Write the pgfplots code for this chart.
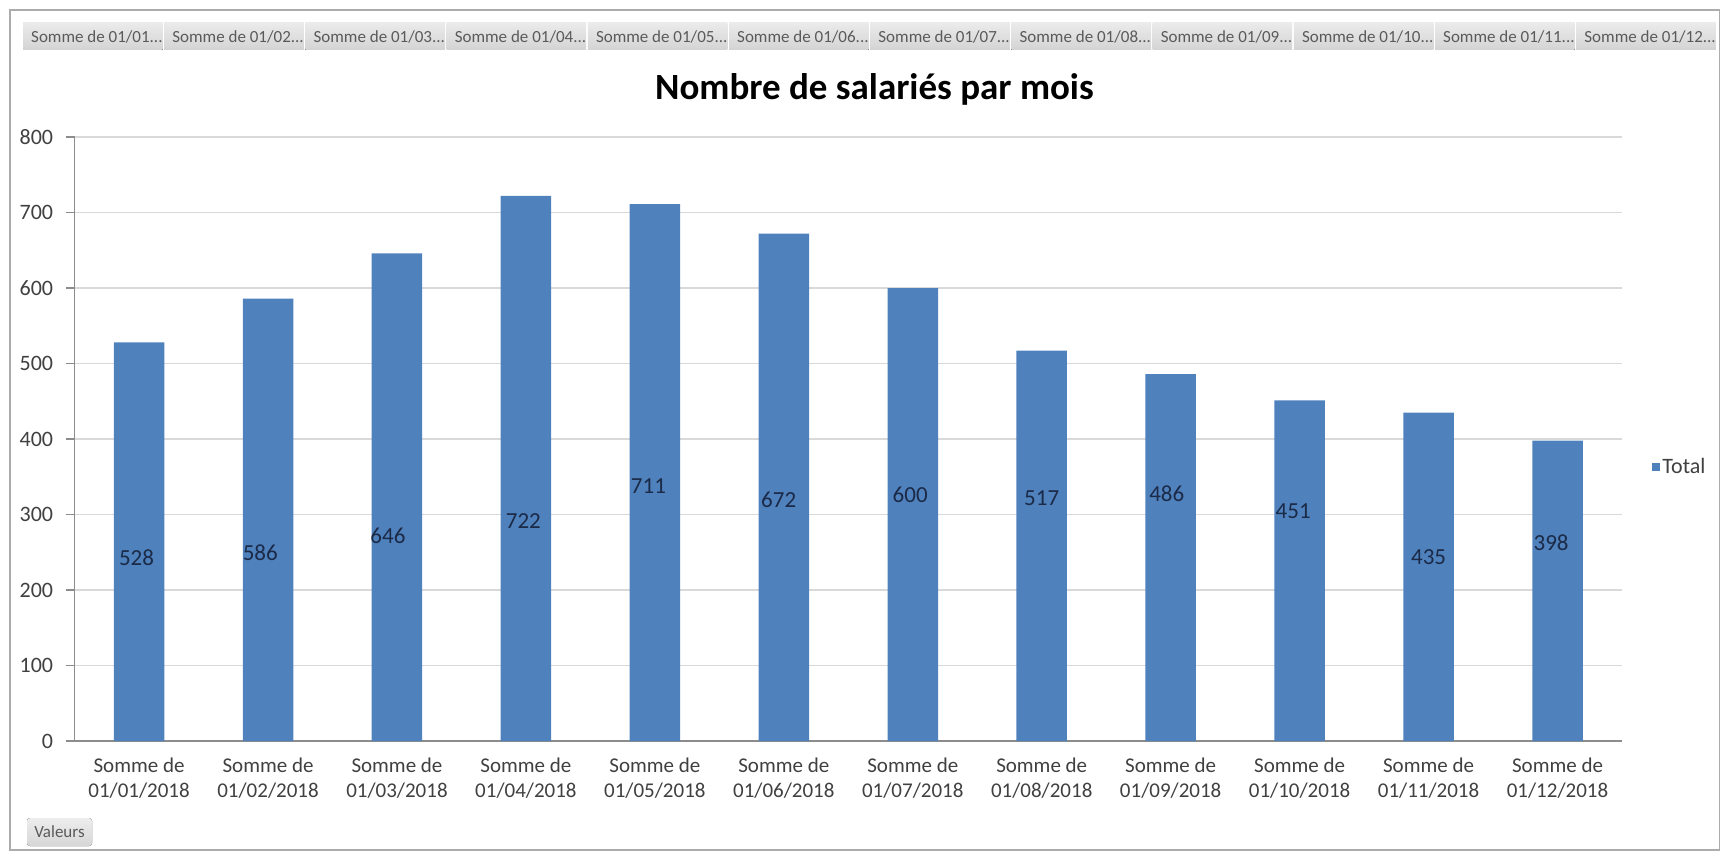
\documentclass[border=0pt]{standalone}
\usepackage{fontspec}
\setmainfont{Carlito}
\usepackage{pgfplots}
\pgfplotsset{compat=1.18}
\definecolor{barblue}{HTML}{4F81BD}
\definecolor{gridgray}{HTML}{D9D9D9}
\definecolor{axisgray}{HTML}{8C8C8C}
\definecolor{ticktext}{HTML}{404040}
\definecolor{labeltext}{HTML}{1B2A47}
\definecolor{btntext}{HTML}{5A5A5A}
\begin{document}
\begin{tikzpicture}[x=1pt,y=1pt]
\begin{axis}[
  at={(74.6pt,111pt)}, anchor=south west,
  scale only axis, width=1547.4pt, height=604pt,
  xmin=-0.5, xmax=11.5, ymin=0, ymax=800,
  axis lines*=left,
  axis line style={axisgray, line width=1.3pt},
  ymajorgrids, grid style={gridgray, line width=1.3pt},
  ytick={0,100,...,800},
  xtick={0,...,11},
  xticklabels={{Somme de\\01/01/2018},{Somme de\\01/02/2018},{Somme de\\01/03/2018},{Somme de\\01/04/2018},{Somme de\\01/05/2018},{Somme de\\01/06/2018},{Somme de\\01/07/2018},{Somme de\\01/08/2018},{Somme de\\01/09/2018},{Somme de\\01/10/2018},{Somme de\\01/11/2018},{Somme de\\01/12/2018}},
  tick align=outside,
  major tick length=9pt,
  minor tick length=6pt,
  xtick style={draw=none},
  minor xtick={-0.5,0.5,...,11.5},
  minor x tick style={axisgray, line width=1.2pt},
  ytick style={axisgray, line width=1.2pt},
  /pgf/number format/assume math mode=true,
  yticklabel style={font=\fontsize{22}{26}\selectfont, text=ticktext, xshift=-9pt},
  xticklabel style={font=\fontsize{21}{25}\selectfont, text=ticktext, align=center, yshift=-4pt},
  legend style={at={(1.0195,0.4536)}, anchor=west, draw=none, fill=none, inner sep=0pt, font=\fontsize{22}{26}\selectfont, text=ticktext},
  legend image code/.code={\fill[barblue] (0pt,-4pt) rectangle (8pt,4pt);},
]
\addplot[ybar, bar width=50.5pt, fill=barblue, draw=none] coordinates {
  (0,528) (1,586) (2,646) (3,722) (4,711) (5,672) (6,600) (7,517) (8,486) (9,451) (10,435) (11,398)};
\addlegendentry{Total}
\begin{scope}[every node/.style={font=\fontsize{23}{26}\selectfont, text=labeltext, inner sep=0pt}]
\node at (axis cs:-0.02,243) {528};
\node at (axis cs:0.94,249) {586};
\node at (axis cs:1.93,272) {646};
\node at (axis cs:2.98,291) {722};
\node at (axis cs:3.95,338) {711};
\node at (axis cs:4.96,320) {672};
\node at (axis cs:5.98,326) {600};
\node at (axis cs:7.0,321) {517};
\node at (axis cs:7.97,327) {486};
\node at (axis cs:8.95,305) {451};
\node at (axis cs:10.0,244) {435};
\node at (axis cs:10.95,262) {398};
\end{scope}
\end{axis}
\draw[gray!65, line width=1.5pt] (10,2) rectangle (1719.5,842);
% field buttons
\foreach \m [count=\i from 0] in {01,02,03,04,05,06,07,08,09,10,11,12} {
  \pgfmathsetmacro\bx{23+141.2*\i}
  \fill[top color=gray!16, bottom color=gray!34] (\bx,802) rectangle ++(139.6,27);
  \node[anchor=west, inner sep=0pt, font=\fontsize{17}{20}\selectfont, text=btntext] at (\bx+8,815.5) {Somme de 01/\m...};
}
% Valeurs button
\fill[rounded corners=3pt, top color=gray!14, bottom color=gray!32] (27,6) rectangle (92,34);
\node[inner sep=0pt, font=\fontsize{17}{20}\selectfont, text=btntext] at (59.5,20) {Valeurs};
% title
\node[anchor=base, font=\bfseries\fontsize{37}{44}\selectfont] at (874.5,752) {Nombre de salariés par mois};
\pgfresetboundingbox
\path[use as bounding box] (0,0) rectangle (1721,852);
\end{tikzpicture}
\end{document}
